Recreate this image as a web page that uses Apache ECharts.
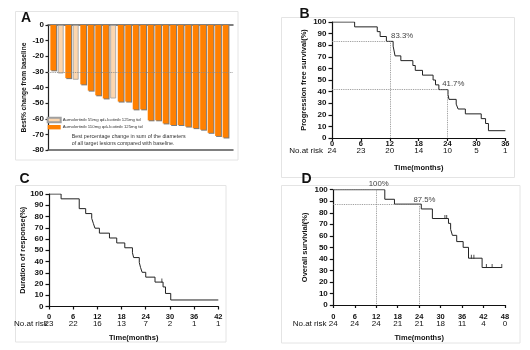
<!DOCTYPE html>
<html>
<head>
<meta charset="utf-8">
<script src="https://cdn.jsdelivr.net/npm/echarts@6/dist/echarts.min.js"></script>
<style>
  html, body { margin: 0; padding: 0; background: #fff; }
  #chart { width: 530px; height: 350px; }
</style>
</head>
<body>
<div id="chart"></div>
<script>
const FONT = '"Liberation Sans", Arial, sans-serif';

// A: best % change per patient, and which arm each bar belongs to
const waterfallValues = [-29, -31, -34, -35, -38, -42, -45, -47, -47, -49, -49, -54, -54, -61, -61, -63, -64, -64, -65, -66, -67, -69, -71, -72];
const waterfallArm = ['110', '55', '110', '55', '110', '110', '110', '110', '55', '110', '110', '110', '110', '110', '110', '110', '110', '110', '110', '110', '110', '110', '110', '110'];
const armLabels = {
  '55': 'Aumolertinib 55mg qd+Icotinib 125mg tid',
  '110': 'Aumolertinib 110mg qd+Icotinib 125mg tid',
};
const responseCut = -30;

// B: progression free survival
const pfsCurve = [[0, 100], [4.7, 95.8], [9.4, 91.7], [10.0, 87.5], [11.3, 83.3], [12.7, 79.2], [12.9, 75.0], [13.1, 70.8], [14.3, 66.7], [16.8, 62.5], [17.3, 58.3], [18.8, 54.2], [21.0, 50.0], [21.5, 45.8], [22.2, 41.7], [24.1, 37.5], [24.3, 33.3], [25.8, 29.2], [26.2, 25.0], [27.7, 20.8], [31.0, 16.7], [31.9, 12.5], [32.5, 6.3], [36, 6.3]];
const pfsRisk = [24, 23, 20, 14, 10, 5, 1];
const pfsMarks = [[12, 83.3], [24, 41.7]];

// C: duration of response
const dorCurve = [[0, 100], [3.0, 95.7], [7.5, 87.0], [9.1, 82.6], [10.6, 78.3], [11.0, 73.9], [11.4, 69.6], [12.5, 65.2], [15.0, 60.9], [16.8, 56.5], [18.8, 52.2], [20.7, 47.8], [21.0, 43.5], [22.4, 39.1], [22.7, 34.8], [23.1, 30.4], [24.0, 26.1], [26.3, 21.7], [28.3, 17.4], [28.9, 11.6], [30.2, 5.8], [42, 5.8]];
const dorCensored = [[28.0, 21.7]];
const dorRisk = [23, 22, 16, 13, 7, 2, 1, 1];

// D: overall survival
const osCurve = [[0, 100], [14.4, 91.7], [17.1, 87.5], [24.6, 83.3], [27.7, 75.0], [32.2, 70.8], [32.8, 65.6], [33.3, 60.4], [34.5, 55.0], [36.3, 50.0], [37.8, 40.6], [41.6, 32.5], [47.1, 32.5]];
const osCensored = [[31.2, 75.0], [31.7, 75.0], [38.6, 40.6], [39.3, 40.6], [42.8, 32.5], [44.4, 32.5], [47.1, 32.5]];
const osRisk = [24, 24, 24, 21, 21, 18, 11, 4, 0];
const osMarks = [[12, 100], [24, 87.5]];

const INK = '#111';
const MARK_SHIFT = {
  pfs: [[12.4, -5.6], [5.8, -5.3]],
  os: [[2.5, -5.7], [5.3, -4.3]],
};

function armData(arm) {
  return waterfallValues
    .map((v, i) => (waterfallArm[i] === arm ? [i, v] : null))
    .filter(Boolean);
}

function timeAxis(grid, max, labelMargin, nameGap) {
  return {
    type: 'value', gridIndex: grid, min: 0, max, interval: 6,
    axisLine: { onZero: false, lineStyle: { color: INK, width: 1.2 } },
    axisTick: { length: 3, lineStyle: { color: INK, width: 1.2 } },
    axisLabel: { margin: labelMargin, fontSize: 7.5, fontWeight: 'bold', color: INK, fontFamily: FONT },
    splitLine: { show: false },
    name: 'Time(months)', nameLocation: 'middle', nameGap, nameMoveOverlap: false,
    nameTextStyle: { fontSize: 7.5, fontWeight: 'bold', color: INK, fontFamily: FONT },
  };
}

function riskAxis(grid, max, risk, offset) {
  return {
    type: 'value', gridIndex: grid, min: 0, max, interval: 6, position: 'bottom', offset,
    axisLine: { show: false, onZero: false },
    axisTick: { show: false },
    splitLine: { show: false },
    axisLabel: {
      margin: 0, fontSize: 8, color: INK, fontFamily: FONT,
      formatter: (v) => String(risk[Math.round(v / 6)]),
    },
  };
}

function percentAxis(grid, name, nameGap) {
  return {
    type: 'value', gridIndex: grid, min: 0, max: 100, interval: 10,
    axisLine: { show: true, onZero: false, lineStyle: { color: INK, width: 1.2 } },
    axisTick: { show: true, length: 3.5, lineStyle: { color: INK, width: 1.2 } },
    axisLabel: { margin: 5.5, fontSize: 8, fontWeight: 'bold', color: INK, fontFamily: FONT },
    splitLine: { show: false },
    name, nameLocation: 'middle', nameGap, nameMoveOverlap: false,
    nameTextStyle: { fontSize: 7.5, fontWeight: 'bold', color: INK, fontFamily: FONT },
  };
}

function refLines(marks) {
  const lines = [];
  marks.forEach(([t, s]) => {
    lines.push([{ coord: [0, s] }, { coord: [t, s] }]);
    lines.push([{ coord: [t, s] }, { coord: [t, 0] }]);
  });
  return lines;
}

function refLabels(marks, shifts) {
  return marks.map(([t, s], i) => ({
    coord: [t, s],
    value: s + '%',
    label: { offset: shifts[i] },
  }));
}

function kmSeries(name, xIndex, yIndex, curve, marks, shifts) {
  const series = {
    type: 'line', name, xAxisIndex: xIndex, yAxisIndex: yIndex,
    step: 'end', data: curve, symbol: 'none', silent: true,
    lineStyle: { color: '#222', width: 1 },
  };
  if (marks) {
    series.markLine = {
      silent: true, symbol: 'none', label: { show: false },
      lineStyle: { color: '#8a8a8a', type: 'dotted', width: 0.9 },
      data: refLines(marks),
    };
    series.markPoint = {
      silent: true, symbol: 'circle', symbolSize: 0,
      label: {
        show: true, position: 'inside', formatter: (p) => p.value,
        fontSize: 7.8, color: '#444', fontFamily: FONT,
      },
      data: refLabels(marks, shifts),
    };
  }
  return series;
}

function censorSeries(xIndex, yIndex, points) {
  return {
    type: 'scatter', xAxisIndex: xIndex, yAxisIndex: yIndex, data: points,
    symbol: 'rect', symbolSize: [1, 4], symbolOffset: [0, -1.5], silent: true,
    itemStyle: { color: '#222' },
  };
}

function frame(x, y, w, h) {
  return { type: 'rect', shape: { x, y, width: w, height: h }, style: { fill: 'none', stroke: '#e4e4e4', lineWidth: 1 }, silent: true };
}

function text(x, y, str, style) {
  return { type: 'text', x, y, silent: true, style: Object.assign({ text: str, fontFamily: FONT, fill: INK, verticalAlign: 'middle' }, style) };
}

const chart = echarts.init(document.getElementById('chart'), null, { renderer: 'canvas' });

chart.setOption({
  animation: false,
  backgroundColor: '#fff',
  grid: [
    { left: 48, top: 25, width: 185, height: 125, outerBoundsMode: 'none' },
    { left: 332, top: 22, width: 173.3, height: 116, outerBoundsMode: 'none' },
    { left: 49, top: 194, width: 169.3, height: 112.5, outerBoundsMode: 'none' },
    { left: 333.3, top: 189.7, width: 171.7, height: 115.3, outerBoundsMode: 'none' },
  ],
  legend: {
    left: 46.7, top: 116.8, orient: 'vertical', itemWidth: 13, itemHeight: 4.4, itemGap: 1.8,
    padding: 0, icon: 'rect', selectedMode: false,
    textStyle: { fontSize: 4.3, color: '#333', fontFamily: FONT, padding: [0, 0, 0, -3] },
    data: [armLabels['55'], armLabels['110']],
  },
  xAxis: [
    {
      type: 'value', gridIndex: 0, min: -0.7, max: 24,
      axisLine: { onZero: true, lineStyle: { color: '#555', width: 1.5 } },
      axisTick: { show: false }, axisLabel: { show: false }, splitLine: { show: false },
    },
    {
      type: 'value', gridIndex: 0, min: -0.7, max: 24, position: 'bottom',
      axisLine: { onZero: false, lineStyle: { color: '#555', width: 1.5 } },
      axisTick: { show: false }, axisLabel: { show: false }, splitLine: { show: false },
    },
    timeAxis(1, 36, 1.5, 25.5),
    riskAxis(1, 36, pfsRisk, 8.5),
    timeAxis(2, 42, 6.3, 27.2),
    riskAxis(2, 42, dorRisk, 13.5),
    timeAxis(3, 48, 7.8, 28.7),
    riskAxis(3, 48, osRisk, 15),
  ],
  yAxis: [
    {
      type: 'value', gridIndex: 0, min: -80, max: 0, interval: 10,
      axisLine: { show: true, onZero: false, lineStyle: { color: '#222', width: 1.2 } },
      axisTick: { show: true, length: 2.5, lineStyle: { color: '#222', width: 1.2 } },
      axisLabel: { margin: 4, fontSize: 8, fontWeight: 'bold', color: INK, fontFamily: FONT },
      splitLine: { show: false },
      name: 'Best% change from baseline', nameLocation: 'middle', nameGap: 20.5, nameMoveOverlap: false,
      nameTextStyle: { fontSize: 6.6, fontWeight: 'bold', color: INK, fontFamily: FONT },
    },
    percentAxis(1, 'Progression free survival(%)', 24.3),
    percentAxis(2, 'Duration of response(%)', 22),
    percentAxis(3, 'Overall survivial(%)', 24.3),
  ],
  series: [
    {
      type: 'bar', name: armLabels['55'], xAxisIndex: 0, yAxisIndex: 0,
      data: armData('55'), barWidth: 5.8, barGap: '-100%', silent: true,
      itemStyle: { color: '#fcd6ae', borderColor: '#a0a0a0', borderWidth: 0.8 },
      markLine: {
        silent: true, symbol: 'none', label: { show: false },
        lineStyle: { color: '#8a8a8a', type: 'dotted', width: 0.9 },
        data: [{ yAxis: responseCut }],
      },
    },
    {
      type: 'bar', name: armLabels['110'], xAxisIndex: 0, yAxisIndex: 0,
      data: armData('110'), barWidth: 5.8, barGap: '-100%', silent: true,
      itemStyle: { color: '#ff8000', shadowColor: 'rgba(80,80,80,0.75)', shadowOffsetX: 1, shadowOffsetY: 1, shadowBlur: 0 },
    },
    kmSeries('PFS', 2, 1, pfsCurve, pfsMarks, MARK_SHIFT.pfs),
    kmSeries('DoR', 4, 2, dorCurve),
    censorSeries(4, 2, dorCensored),
    kmSeries('OS', 6, 3, osCurve, osMarks, MARK_SHIFT.os),
    censorSeries(6, 3, osCensored),
  ],
  graphic: [
    frame(15.5, 11.5, 222.5, 148.5),
    frame(281.5, 17.5, 233, 160),
    frame(15.5, 185.5, 210.5, 156.5),
    frame(281.5, 185.5, 238.5, 157.5),
    text(21, 17.8, 'A', { fontSize: 14, fontWeight: 'bold' }),
    text(299.5, 13.8, 'B', { fontSize: 14, fontWeight: 'bold' }),
    text(19.5, 179.6, 'C', { fontSize: 14, fontWeight: 'bold' }),
    text(301.5, 179.6, 'D', { fontSize: 14, fontWeight: 'bold' }),
    text(71.7, 136.2, 'Best percentage change in sum of the diameters', { fontSize: 5.3, fill: '#333' }),
    text(71.7, 143.9, 'of all target lesions compared with baseline.', { fontSize: 5.3, fill: '#333' }),
    text(323, 150.6, 'No.at risk', { fontSize: 8, align: 'right' }),
    text(47.8, 324.2, 'No.at risk', { fontSize: 8, align: 'right' }),
    text(326.5, 324.2, 'No.at risk', { fontSize: 8, align: 'right' }),
  ],
});
</script>
</body>
</html>
